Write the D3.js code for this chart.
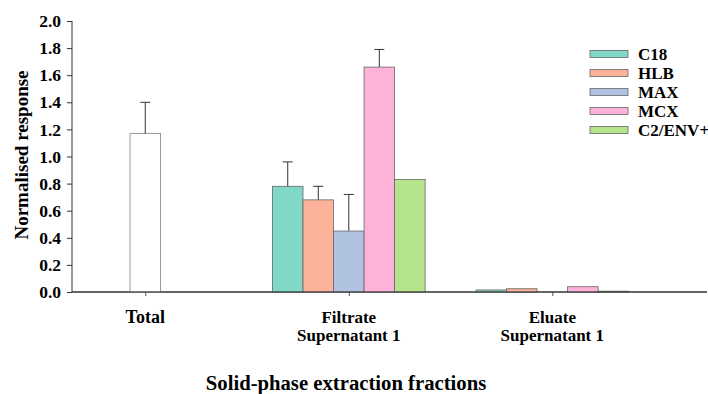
<!DOCTYPE html>
<html>
<head>
<meta charset="utf-8">
<script src="https://cdn.jsdelivr.net/npm/d3@7"></script>
<style>
  body { margin: 0; background: #fff; }
  text { font-family: "Liberation Serif", "Times New Roman", serif; font-weight: bold; fill: #000; }
</style>
</head>
<body>
<svg id="chart" width="708" height="394"></svg>
<script>
// data
var categories = [["Total"], ["Filtrate", "Supernatant 1"], ["Eluate", "Supernatant 1"]];
var series = ["C18", "HLB", "MAX", "MCX", "C2/ENV+"];
var colors = ["#82d8c6", "#fcb399", "#afc3e0", "#fdb2d9", "#b6e48c"];
var totalValue = 1.17, totalErr = 0.23;
var filtrateValues = [0.78, 0.68, 0.45, 1.66, 0.83];
var filtrateErrs = [0.18, 0.10, 0.27, 0.13, 0];
var eluateValues = [0.015, 0.024, 0, 0.039, 0.006];
var eluateErrs = [0, 0, 0, 0, 0];
var yTicks = [0.0, 0.2, 0.4, 0.6, 0.8, 1.0, 1.2, 1.4, 1.6, 1.8, 2.0];

var svg = d3.select("#chart");

// scales
var x = d3.scaleLinear().domain([0.64, 3.76]).range([72, 707]);
var y = d3.scaleLinear().domain([0, 2]).range([292, 21]);
var barW = 0.15; // in x units

// y axis
var yAxis = svg.append("g")
  .attr("transform", "translate(72,0)")
  .call(d3.axisLeft(y).tickValues(yTicks).tickFormat(d3.format(".1f")).tickSize(5).tickPadding(6));
yAxis.select(".domain").attr("stroke", "#333").attr("d", "M0," + y(2) + "V" + y(0));
yAxis.selectAll(".tick line").attr("stroke", "#333");
yAxis.selectAll(".tick text").attr("font-size", "17.5px").attr("fill", "#000")
  .attr("font-family", "Liberation Serif").attr("font-weight", "bold");

// x axis
var xAxis = svg.append("g")
  .attr("transform", "translate(0," + y(0) + ")")
  .call(d3.axisBottom(x).tickValues([1, 2, 3]).tickFormat("").tickSize(4));
xAxis.select(".domain").attr("stroke", "#333").attr("d", "M72,0H707");
xAxis.selectAll(".tick line").attr("stroke", "#555");

// category labels
categories.forEach(function(lines, i) {
  var t = svg.append("text")
    .attr("x", x(i + 1))
    .attr("y", 322.5)
    .attr("text-anchor", "middle")
    .attr("font-size", i == 0 ? "18px" : "17px");
  lines.forEach(function(l, j) {
    t.append("tspan").attr("x", x(i + 1)).attr("dy", j == 0 ? 0 : 18).text(l);
  });
});

// total bar
var g = svg.append("g");
g.append("rect")
  .attr("x", x(1 - barW / 2))
  .attr("width", x(1 + barW / 2) - x(1 - barW / 2))
  .attr("y", y(totalValue))
  .attr("height", y(0) - y(totalValue))
  .attr("fill", "#fff")
  .attr("stroke", "#999");

// grouped bars
function drawGroup(center, values, errs) {
  var data = values.map(function(v, i) { return {v: v, e: errs[i], i: i}; });
  // error bars (upper half only)
  data.filter(function(d) { return d.e > 0; }).forEach(function(d) {
    var cx = x(center + (d.i - 2) * barW);
    g.append("line").attr("x1", cx).attr("x2", cx)
      .attr("y1", y(d.v)).attr("y2", y(d.v + d.e)).attr("stroke", "#333");
    g.append("line").attr("x1", cx - 5).attr("x2", cx + 5)
      .attr("y1", y(d.v + d.e)).attr("y2", y(d.v + d.e)).attr("stroke", "#333");
  });
  g.selectAll(null)
    .data(data)
    .enter()
    .append("rect")
    .attr("x", function(d) { return x(center + (d.i - 2.5) * barW); })
    .attr("width", x(barW) - x(0))
    .attr("y", function(d) { return y(d.v); })
    .attr("height", function(d) { return y(0) - y(d.v); })
    .attr("fill", function(d) { return colors[d.i]; })
    .attr("stroke", "#666")
    .attr("stroke-width", 0.8);
}
// total error bar
var tcx = x(1);
g.append("line").attr("x1", tcx).attr("x2", tcx)
  .attr("y1", y(totalValue)).attr("y2", y(totalValue + totalErr)).attr("stroke", "#333");
g.append("line").attr("x1", tcx - 5).attr("x2", tcx + 5)
  .attr("y1", y(totalValue + totalErr)).attr("y2", y(totalValue + totalErr)).attr("stroke", "#333");

drawGroup(2, filtrateValues, filtrateErrs);
drawGroup(3, eluateValues, eluateErrs);

// redraw baseline on top
svg.append("line").attr("x1", 72).attr("x2", 707)
  .attr("y1", y(0)).attr("y2", y(0)).attr("stroke", "#333");

// legend
var legend = svg.append("g").attr("transform", "translate(590,54)");
series.forEach(function(s, i) {
  legend.append("rect")
    .attr("x", 0).attr("y", i * 19 - 3.5)
    .attr("width", 38).attr("height", 7)
    .attr("fill", colors[i]).attr("stroke", "#666").attr("stroke-width", 0.8);
  legend.append("text")
    .attr("x", 48).attr("y", i * 19 + 6)
    .attr("font-size", "17px")
    .text(s);
});

// axis titles
svg.append("text")
  .attr("transform", "translate(28,155) rotate(-90)")
  .attr("text-anchor", "middle")
  .attr("font-size", "19px")
  .text("Normalised response");

svg.append("text")
  .attr("x", 346).attr("y", 390)
  .attr("text-anchor", "middle")
  .attr("font-size", "20.7px")
  .text("Solid-phase extraction fractions");
</script>
</body>
</html>
